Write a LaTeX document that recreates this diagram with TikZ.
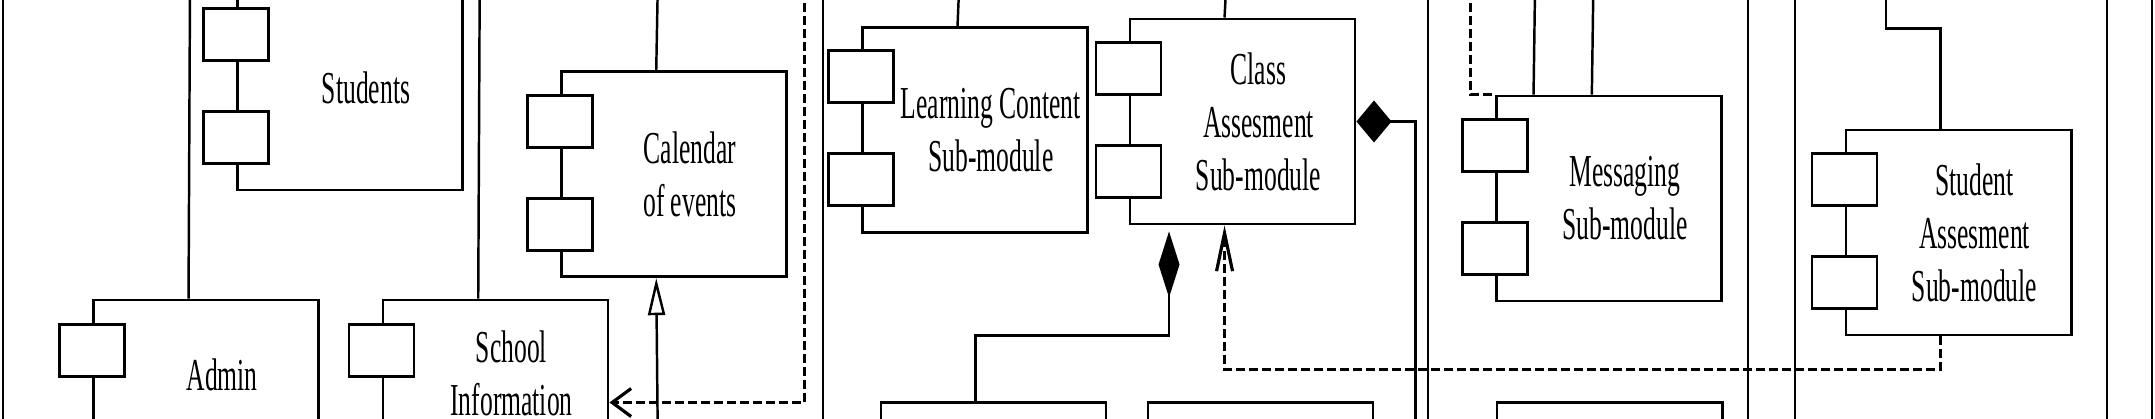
\documentclass[tikz,border=0pt]{standalone}
\usepackage{fontspec}
\setmainfont{Liberation Serif}[FakeStretch=0.56]
\usetikzlibrary{arrows.meta, calc}

\begin{document}
\begin{tikzpicture}[
  x=0.01cm, y=-0.01cm,
  body/.style={draw, line width=0.8pt, minimum width=2.25cm, minimum height=2.05cm, inner sep=0pt},
  port/.style={draw, fill=white, line width=0.8pt, minimum width=0.65cm, minimum height=0.52cm, inner sep=0pt},
  lbl/.style={align=center, inner sep=0pt, font=\fontsize{13}{15.1}\selectfont},
  conn/.style={line width=0.7pt},
  divider/.style={line width=0.7pt},
  dep/.style={line width=0.9pt, dash pattern=on 0.09cm off 0.04cm},
  gen/.style={conn, -{Triangle[open, length=0.37cm, width=0.17cm]}},
  comp/.style={conn, {Diamond[length=0.35cm, width=0.42cm]}-}
]
\useasboundingbox (0,0) rectangle (2155,418);
\fill[white] (0,0) rectangle (2155,418);
\clip (0,0) rectangle (2155,418);

% package frames
\draw[divider] (3,-10) -- (3,430);
\draw[divider] (823,-10) -- (823,430);
\draw[divider] (1428,-10) -- (1428,430);
\draw[divider] (1748,-10) -- (1748,430);
\draw[divider] (1795,-10) -- (1795,430);
\draw[divider] (2107,-10) -- (2107,430);
\draw[divider] (2152,-10) -- (2152,430);

% component bodies
\node[body] (students) at (350,87.5) {};
\node[body] (admin) at (206.2,402.5) {};
\node[body] (school) at (495.5,402.5) {};
\node[body] (calendar) at (673.8,174.2) {};
\node[body] (learning) at (974.8,129.8) {};
\node[body] (classass) at (1242.5,121.5) {};
\node[body] (messaging) at (1609,198.5) {};
\node[body] (studass) at (1958.5,232.5) {};
\node[body] (lower1) at (993.5,505.2) {};
\node[body] (lower2) at (1260.5,505.2) {};
\node[body] (lower3) at (1609.5,505.2) {};

% ports
\node[port] (students-p1) at ($(students.north west)+(0,51)$) {};
\node[port] (students-p2) at ($(students.north west)+(0,154)$) {};
\node[port] (admin-p1) at ($(admin.north west)+(0,52)$) {};
\node[port] (school-p1) at ($(school.north west)+(0,52)$) {};
\node[port] (calendar-p1) at ($(calendar.north west)+(0,51)$) {};
\node[port] (calendar-p2) at ($(calendar.north west)+(0,154)$) {};
\node[port] (learning-p1) at ($(learning.north west)+(0,51)$) {};
\node[port] (learning-p2) at ($(learning.north west)+(0,154)$) {};
\node[port] (classass-p1) at ($(classass.north west)+(0,51)$) {};
\node[port] (classass-p2) at ($(classass.north west)+(0,154)$) {};
\node[port] (messaging-p1) at ($(messaging.north west)+(0,51)$) {};
\node[port] (messaging-p2) at ($(messaging.north west)+(0,154)$) {};
\node[port] (studass-p1) at ($(studass.north west)+(0,51)$) {};
\node[port] (studass-p2) at ($(studass.north west)+(0,154)$) {};

% names
\node[lbl] (students-t) at ($(students.center)+(16,0)$) {Students};
\node[lbl] (admin-t) at ($(admin.center)+(16,-27.5)$) {Admin};
\node[lbl] (school-t) at ($(school.center)+(16,-29.5)$) {School\\Information};
\node[lbl] (calendar-t) at ($(calendar.center)+(16,0)$) {Calendar\\of events};
\node[lbl] (learning-t) at ($(learning.center)+(16,0)$) {Learning Content\\Sub-module};
\node[lbl] (classass-t) at ($(classass.center)+(16,0)$) {Class\\Assesment\\Sub-module};
\node[lbl] (messaging-t) at ($(messaging.center)+(16,0)$) {Messaging\\Sub-module};
\node[lbl] (studass-t) at ($(studass.center)+(16,0)$) {Student\\Assesment\\Sub-module};

% loose ends outside the view
\coordinate (adminIn) at (190,-10);
\coordinate (schoolIn) at (479.7,-10);
\coordinate (calendarIn) at (657.7,-10);
\coordinate (calendarOut) at (804.8,-10);
\coordinate (genIn) at (657.7,430);
\coordinate (learningIn) at (959,-10);
\coordinate (classassIn) at (1226,-10);
\coordinate (compOut) at (1415.6,430);
\coordinate (messagingIn) at (1535,-10);
\coordinate (messagingIn2) at (1593.3,-10);
\coordinate (messagingDep) at (1470.7,-10);
\coordinate (studassIn) at (1886,-10);

% connectors
\draw[conn] (adminIn) -- ($(admin.north west)+(96.3,0)$);
\draw[conn] (schoolIn) -- ($(school.north west)+(96.7,0)$);
\draw[conn] (calendarIn) -- ($(calendar.north west)+(96.4,0)$);
\draw[gen] (genIn) -- ($(calendar.south west)+(96.4,0)$);
\draw[dep, -{Straight Barb[length=0.19cm, width=0.28cm]}] (calendarOut) |- (school.east);
\draw[conn] (learningIn) -- ($(learning.north west)+(96.7,0)$);
\draw[conn] (classassIn) -- ($(classass.north west)+(96,0)$);
\draw[comp] (classass.east) -| (compOut);
\draw[conn, {Diamond[length=0.66cm, width=0.21cm]}-, shorten <=0.06cm]
  ($(classass.south west)+(40.5,0)$) -- ++(0,110) -| ($(lower1.north west)+(96,0)$);
\draw[dep, -{Straight Barb[length=0.38cm, width=0.16cm]}]
  ($(studass.south west)+(96,0)$) -- ++(0,33) -| ($(classass.south west)+(96,0)$);
\draw[conn] (messagingIn) -- ($(messaging.north west)+(38.5,0)$);
\draw[conn] (messagingIn2) -- ($(messaging.north west)+(96.8,0)$);
\draw[dep] (messagingDep) |- (messaging.north west);
\draw[conn] (studassIn) -- ++(0,38.3) -| ($(studass.north west)+(96,0)$);

\end{tikzpicture}
\end{document}
